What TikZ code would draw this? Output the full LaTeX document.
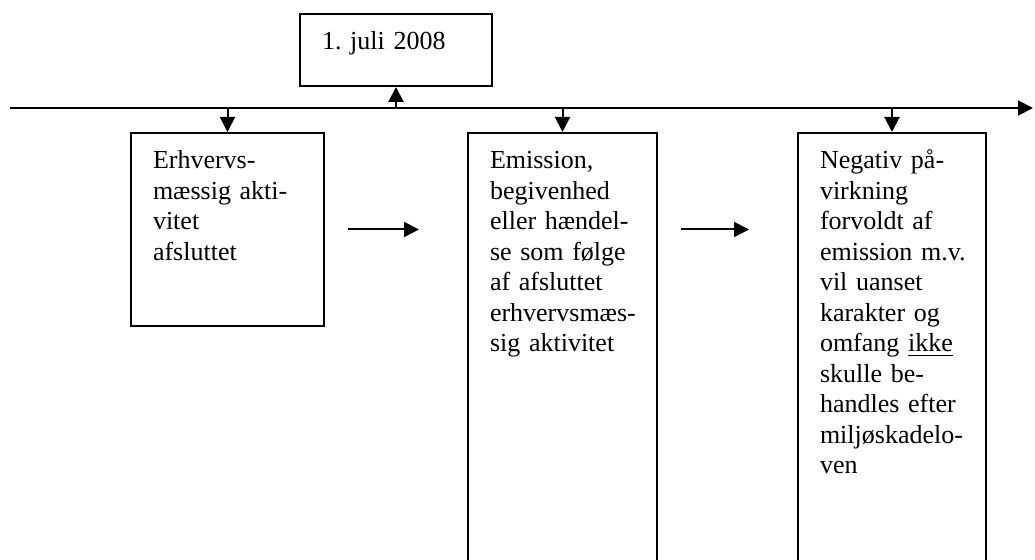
\documentclass[tikz,border=0pt]{standalone}
\usepackage{fontspec}
\setmainfont{Liberation Serif}
\usetikzlibrary{arrows.meta,positioning}
\frenchspacing
\exhyphenpenalty=10000
\hyphenpenalty=10000

\begin{document}
\begin{tikzpicture}[x=0.5pt, y=-0.5pt,
  box/.style={draw, line width=1pt, anchor=north west, align=left,
              inner xsep=11pt, inner ysep=9pt, text height=9pt,
              font=\fontsize{13}{15.25}\selectfont},
  arr/.style={-{Triangle[length=7.5pt,width=7.5pt]}, line width=1pt}
]
\useasboundingbox (0,0) rectangle (1035,560);
\clip (0,0) rectangle (1035,560);

%% Time line
\coordinate (tstart) at (10,108);
\coordinate (tend)   at (1033,108);
\draw[arr] (tstart) -- (tend);

%% Date box above the line
\node[box, text width=74pt, text depth=9pt] (dato) at (299,13) {1.~juli~2008};
\draw[arr] (dato.south |- tstart) -- (dato.south);

%% Three boxes below the line
\node[box, text width=74.5pt, text depth=69.5pt] (akt) at (130,132)
  {Erhvervs-\\mæssig~akti-\\vitet\\afsluttet};
\node[box, text width=72.5pt, text depth=250pt] (emi) at (467,132)
  {Emission,\\begivenhed\\eller~hændel-\\se~som~følge\\af~afsluttet\\erhvervsmæs-\\sig~aktivitet};
\node[box, text width=72pt, text depth=250pt] (virk) at (797,132)
  {Negativ~på-\\virkning\\forvoldt~af\\emission~m.v.\\vil~uanset\\karakter~og\\omfang~\underline{ikke}\\skulle~be-\\handles~efter\\miljøskadelo-\\ven};

%% Arrows: time line down to each box
\draw[arr] (akt.north |- tstart)  -- (akt.north);
\draw[arr] (emi.north |- tstart)  -- (emi.north);
\draw[arr] (virk.north |- tstart) -- (virk.north);

%% Arrows between the boxes
\draw[arr, shorten <=11.5pt, shorten >=24pt] (akt.east) -- (akt.east -| emi.west);
\draw[arr, shorten <=11.5pt, shorten >=24pt] (akt.east -| emi.east) -- (akt.east -| virk.west);
\end{tikzpicture}
\end{document}
